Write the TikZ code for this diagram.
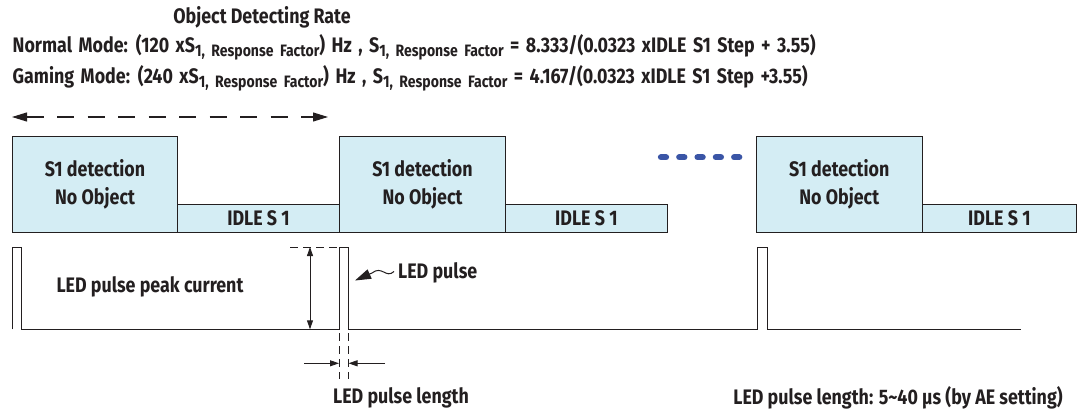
\documentclass[tikz,border=0pt]{standalone}
\usepackage{fontspec}
\setmainfont{Fira Sans}[FakeStretch=0.85]
\usetikzlibrary{arrows.meta}
\definecolor{ink}{HTML}{231F20}
\definecolor{boxfill}{HTML}{D4EDF4}
\definecolor{dotblue}{HTML}{3A55A6}
\newcommand\rsub[1]{\raisebox{-0.35ex}{\fontsize{16.5}{16.5}\selectfont #1}}
\newcommand\widespaces{\spaceskip 6.5pt\relax}
\begin{document}
\begin{tikzpicture}[x=1pt,y=-1pt,
  txt/.style={font=\fontsize{21}{24}\selectfont\bfseries, text=ink, inner sep=0pt},
  formula/.style={txt, anchor=west},
  detbox/.style={draw=ink, fill=boxfill, line width=1.1pt, anchor=north west, inner sep=0pt,
     minimum width=#1, minimum height=96pt, align=center, font=\fontsize{21}{28.5}\selectfont\bfseries, text=ink},
  idlebox/.style={draw=ink, fill=boxfill, line width=1.1pt, anchor=north west, inner sep=0pt,
     minimum width=#1, minimum height=27.7pt, font=\fontsize{21}{24}\selectfont\bfseries, text=ink},
  wave/.style={draw=ink, line width=0.9pt},
  tip/.style={-{Triangle[length=9pt,width=6pt]}},
  dtip/.style={{Triangle[length=9pt,width=6pt]}-{Triangle[length=9pt,width=6pt]}},
  guide/.style={draw=ink, line width=0.9pt, dash pattern=on 8pt off 5pt}]
\useasboundingbox (0,0) rectangle (1077,412);

% header texts
\node[txt] (title) at (262,17) {Object Detecting Rate};
\node[formula] (normal) at (12.5,47) {\widespaces Normal Mode: (120 xS\rsub{1, Response Factor}) Hz , S\rsub{1, Response Factor} = 8.333/(0.0323 xIDLE S1 Step + 3.55)};
\node[formula] (gaming) at (12.5,78) {\widespaces Gaming Mode: (240 xS\rsub{1, Response Factor}) Hz , S\rsub{1, Response Factor} = 4.167/(0.0323 xIDLE S1 Step +3.55)};

% period arrow
\coordinate (pl) at (12,117);
\coordinate (pr) at (328,117);
\draw[draw=ink, line width=1.1pt, dash pattern=on 17pt off 13.5pt,
  {Triangle[length=15pt,width=9pt]}-{Triangle[length=15pt,width=9pt]}] (pl) -- (pr);

% boxes
\node[detbox=165pt] (d1) at (12,135.7) {S1 detection\\No Object};
\node[idlebox=162pt] (i1) at (177,204) {IDLE S 1};
\node[detbox=166pt] (d2) at (339,135.7) {S1 detection\\No Object};
\node[idlebox=161.7pt] (i2) at (505,204) {IDLE S 1};
\node[detbox=166pt] (d3) at (755.7,135.7) {S1 detection\\No Object};
\node[idlebox=154.3pt] (i3) at (921.7,204) {IDLE S 1};

% blue dots
\coordinate (bl) at (661,157.3);
\coordinate (br) at (741,157.3);
\draw[dotblue, line width=6.3pt, line cap=round, dash pattern=on 5pt off 13.3pt] (bl) -- (br);

% waveform
\draw[wave] (12,329.3) -- (12,247) -- (21,247) -- (21,329.3) -- (339,329.3) -- (339,247) -- (348.5,247)
  -- (348.5,329.3) -- (757.3,329.3) -- (757.3,247) -- (767.3,247) -- (767.3,329.3) -- (1021,329.3);

% peak current
\coordinate (pkt) at (310,247);
\coordinate (pkb) at (310,329.3);
\draw[guide] (290,247) -- (339,247);
\draw[ink, line width=0.9pt, dtip] (pkt) -- (pkb);
\node[txt] (peak) at (150,287) {LED pulse peak current};

% pulse length
\draw[guide] (339,333) -- (339,379);
\draw[guide] (348.5,333) -- (348.5,379);
\coordinate (la) at (304,363.3);
\coordinate (lb) at (339,363.3);
\coordinate (ra) at (385,363.3);
\coordinate (rb) at (348.5,363.3);
\draw[ink, line width=0.9pt, tip] (la) -- (lb);
\draw[ink, line width=0.9pt, tip] (ra) -- (rb);
\node[txt] (plen) at (401,398) {LED pulse length};

% LED pulse label
\node[txt, anchor=west] (lp) at (398,272.5) {LED pulse};
\draw[ink, line width=1pt, -{Triangle[length=16pt,width=10pt]}] (lp.west) ++(-4,-1) .. controls (386,279) and (382,265) .. (372,273) -- (355,280.5);

\node[txt] (range) at (898,398) {LED pulse length: 5\textasciitilde{}40 µs (by AE setting)};
\end{tikzpicture}
\end{document}
